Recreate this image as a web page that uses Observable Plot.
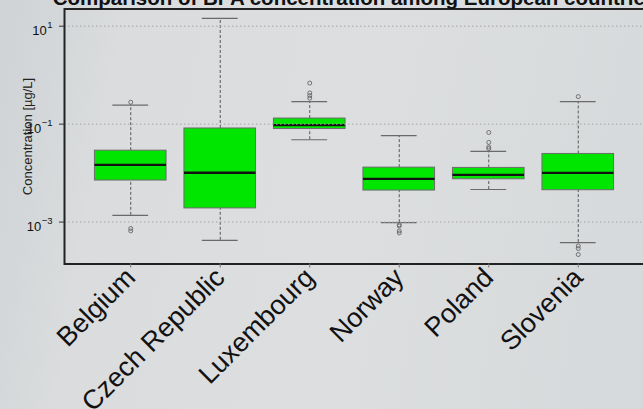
<!DOCTYPE html>
<html><head><meta charset="utf-8">
<script src="https://cdn.jsdelivr.net/npm/d3@7"></script>
<script src="https://cdn.jsdelivr.net/npm/@observablehq/plot@0.6"></script>
<style>
html,body{margin:0;padding:0;width:643px;height:409px;overflow:hidden;
  background:linear-gradient(100deg,#cfd3d6 0%,#dadcdd 18%,#dcdedf 55%,#d6d9db 100%);
  font-family:"Liberation Sans",Arial,sans-serif;}
#chart{position:absolute;left:0;top:0;}
</style></head><body><div id="chart"></div>
<script>
const title = "Comparison of BPA concentration among European countries";
const yLabel = "Concentration [µg/L]";
const countries = ["Belgium", "Czech Republic", "Luxembourg", "Norway", "Poland", "Slovenia"];
const whiskerLow  = [0.00137, 0.000424, 0.048, 0.00097, 0.00462, 0.000381];
const q1          = [0.00705, 0.0019,   0.0794, 0.0044, 0.00748, 0.00447];
const median      = [0.0147,  0.0102,   0.0955, 0.00762, 0.0092, 0.0101];
const q3          = [0.0287,  0.0815,   0.130,  0.01294, 0.01276, 0.0246];
const whiskerHigh = [0.244,   14.4,     0.288,  0.058,  0.0278, 0.288];
// outliers: country index (0-based) and value
const outlierCountry = [0, 0, 0, 2, 2, 2, 2, 3, 3, 3, 3, 4, 4, 4, 4, 5, 5, 5, 5];
const outlierValue   = [0.28, 0.00074, 0.00066, 0.69, 0.434, 0.382, 0.339,
                        0.00088, 0.00083, 0.00066, 0.0006,
                        0.0676, 0.0424, 0.0341, 0.0315,
                        0.365, 0.000325, 0.000288, 0.000217];
const yTicks = [10, 0.1, 0.001];
const yExp = ["1", "\u22121", "\u22123"];

const positions = countries.map((_, i) => i + 1);
const boxes = countries.map((c, i) => ({
  name: c, pos: positions[i], lo: whiskerLow[i], q1: q1[i], med: median[i], q3: q3[i], hi: whiskerHigh[i]
}));
const outliers = outlierValue.map((v, i) => ({pos: positions[outlierCountry[i]], v}));

// R-style 4% axis extension
const allVals = [...whiskerLow, ...whiskerHigh, ...outlierValue];
const lmin = Math.log10(d3.min(allVals)), lmax = Math.log10(d3.max(allVals));
const ext = 0.04 * (lmax - lmin);
const yDomain = [10 ** (lmin - ext), 10 ** (lmax + ext)];
const xDomain = [0.5 - 0.04 * countries.length, countries.length + 0.5 + 0.04 * countries.length];

const ctx = document.createElement("canvas").getContext("2d");
ctx.font = '9.5px "Liberation Sans"';
const expW = yExp.map(e => ctx.measureText(e).width);

const green = "#00e600";
const tickLabelMarks = [];
yTicks.forEach((t, i) => {
  tickLabelMarks.push(Plot.text([t], {y: d => d, frameAnchor: "left", text: () => "10",
    textAnchor: "end", lineAnchor: "bottom", dx: -12 - expW[i] - 0.5, dy: 9, fontSize: 13, fill: "#111"}));
  tickLabelMarks.push(Plot.text([t], {y: d => d, frameAnchor: "left", text: () => yExp[i],
    textAnchor: "end", lineAnchor: "bottom", dx: -12, dy: 2.3, fontSize: 9.5, fill: "#111"}));
});

const chart = Plot.plot({
  width: 643, height: 409,
  marginTop: 8.5, marginBottom: 145.5, marginLeft: 64, marginRight: -1,
  style: {background: "transparent", fontFamily: '"Liberation Sans", Arial, sans-serif', overflow: "visible"},
  x: {domain: xDomain},
  y: {type: "log", domain: yDomain},
  marks: [
    Plot.ruleX(boxes, {x: "pos", y1: "q3", y2: "hi", stroke: "#4a4a4a", strokeDasharray: "3,2", strokeWidth: 0.9}),
    Plot.ruleX(boxes, {x: "pos", y1: "lo", y2: "q1", stroke: "#4a4a4a", strokeDasharray: "3,2", strokeWidth: 0.9}),
    Plot.ruleY(boxes, {y: "hi", x1: d => d.pos - 0.2, x2: d => d.pos + 0.2, stroke: "#6a6a6a", strokeWidth: 1.2}),
    Plot.ruleY(boxes, {y: "lo", x1: d => d.pos - 0.2, x2: d => d.pos + 0.2, stroke: "#6a6a6a", strokeWidth: 1.2}),
    Plot.rect(boxes, {x1: d => d.pos - 0.4, x2: d => d.pos + 0.4, y1: "q1", y2: "q3", fill: green, stroke: "#6c6c6c", strokeWidth: 1}),
    Plot.ruleY(boxes, {y: "med", x1: d => d.pos - 0.4, x2: d => d.pos + 0.4, stroke: "#111", strokeWidth: 2.4}),
    Plot.dot(outliers, {x: "pos", y: "v", r: 2, stroke: "#666", strokeWidth: 0.9, fill: "none"}),
    Plot.ruleY(yTicks, {y: d => d, stroke: "#a6a6a6", strokeDasharray: "1.5,2.5", strokeWidth: 1}),
    Plot.frame({stroke: "#222", strokeWidth: 2}),
    Plot.axisY({ticks: yTicks, tickSize: 5, tickFormat: () => "", label: null, stroke: "#333"}),
    ...tickLabelMarks,
    Plot.axisX({ticks: positions, tickSize: 4, tickFormat: () => "", label: null, stroke: "#777"}),
    Plot.text(countries, {x: (d, i) => positions[i], frameAnchor: "bottom", text: d => d, rotate: -45,
      textAnchor: "end", lineAnchor: "middle", dy: 9, fontSize: 27, fill: "#111"}),
    Plot.text([yLabel], {frameAnchor: "left", text: d => d, rotate: -90, textAnchor: "middle",
      lineAnchor: "middle", dx: -37, fontSize: 13, fill: "#222"}),
    Plot.text([title], {frameAnchor: "top", text: d => d, lineAnchor: "bottom", dy: -4.5,
      fontSize: 20.5, fontWeight: "bold", fill: "#111"})
  ]
});
document.getElementById("chart").appendChild(chart);
</script>
</body></html>
